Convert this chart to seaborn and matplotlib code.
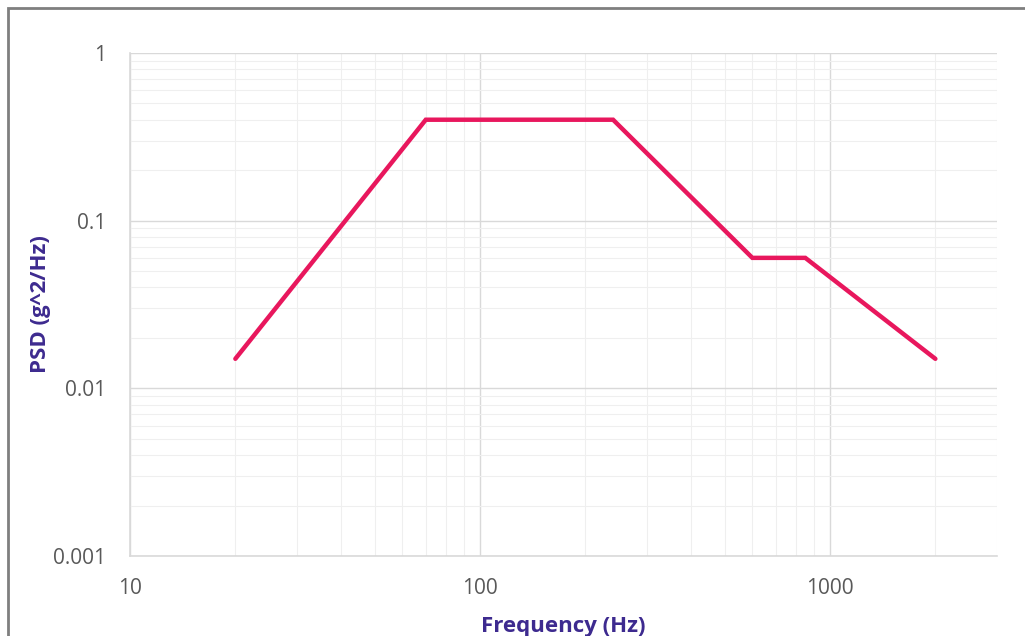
# PSD-Profil (log-log) nachbauen
import pandas as pd
import seaborn as sns
import matplotlib.pyplot as plt
from matplotlib.patches import Rectangle
from matplotlib.ticker import FixedLocator, LogLocator, NullFormatter

# Daten
frequency_hz = [20, 70, 240, 600, 850, 2000]
psd_values = [0.015, 0.4, 0.4, 0.06, 0.06, 0.015]
x_ticks = [10, 100, 1000]
x_labels = ["10", "100", "1000"]
y_ticks = [0.001, 0.01, 0.1, 1]
y_labels = ["0.001", "0.01", "0.1", "1"]

df = pd.DataFrame({"freq": frequency_hz, "psd": psd_values})

sns.set_theme(style="white")
plt.rcParams["font.family"] = ["Open Sans", "DejaVu Sans"]

fig = plt.figure(figsize=(10.25, 6.36), dpi=100)
ax = fig.add_axes([130 / 1025, 1 - 556 / 636, (997 - 130) / 1025, (556 - 53) / 636])

# Rahmen um die ganze Grafik (rechts und unten abgeschnitten)
fig.patches.append(Rectangle((8 / 1025, -0.1), 1.2, 1 - 8 / 636 + 0.1,
                             transform=fig.transFigure, fill=False,
                             edgecolor="#7f7f7f", linewidth=2))

sns.lineplot(data=df, x="freq", y="psd", ax=ax, color="#e8175d",
             linewidth=3.2, solid_joinstyle="miter")

ax.set_xscale("log")
ax.set_yscale("log")
ax.set_xlim(10, 3000)
ax.set_ylim(0.001, 1)

ax.xaxis.set_major_locator(FixedLocator(x_ticks))
ax.set_xticklabels(x_labels)
ax.yaxis.set_major_locator(FixedLocator(y_ticks))
ax.set_yticklabels(y_labels)
ax.xaxis.set_minor_locator(LogLocator(base=10, subs=range(2, 10)))
ax.yaxis.set_minor_locator(LogLocator(base=10, subs=range(2, 10)))
ax.xaxis.set_minor_formatter(NullFormatter())
ax.yaxis.set_minor_formatter(NullFormatter())

ax.grid(which="major", color="#d9d9d9", linewidth=1)
ax.grid(which="minor", color="#efefef", linewidth=0.8)
ax.set_axisbelow(True)

for side in ["top", "right"]:
    ax.spines[side].set_visible(False)
for side in ["left", "bottom"]:
    ax.spines[side].set_color("#d9d9d9")
    ax.spines[side].set_linewidth(1.2)

ax.tick_params(axis="both", which="both", length=0, labelsize=15, colors="#595959")
ax.tick_params(axis="x", pad=16)
ax.tick_params(axis="y", pad=17)

ax.set_xlabel("Frequency (Hz)", fontsize=16, fontweight="bold", color="#3d2a8f", labelpad=12)
ax.set_ylabel("PSD (g^2/Hz)", fontsize=16, fontweight="bold", color="#3d2a8f", labelpad=2)

fig.savefig("out.png", dpi=100)
